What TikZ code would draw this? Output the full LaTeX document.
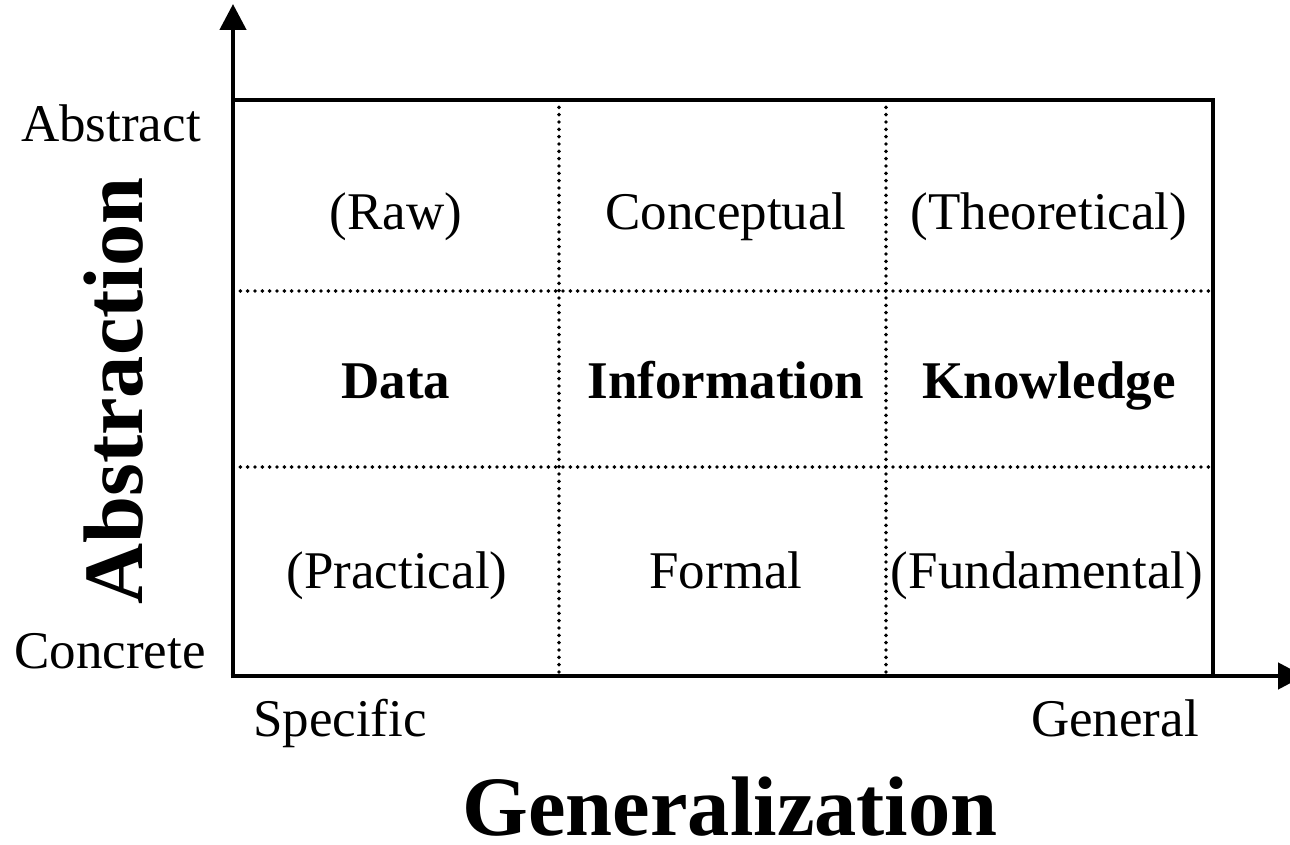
\documentclass[tikz,border=0pt]{standalone}
\usepackage{fontspec}
\setmainfont{Liberation Serif}
\usetikzlibrary{arrows.meta}
\begin{document}
\begin{tikzpicture}[x=0.75pt,y=-0.75pt,
  frameline/.style={line width=3.4pt},
  axisline/.style={line width=3.4pt,-{Triangle[length=19.5pt,width=19.5pt]}},
  gridline/.style={line width=2.9pt,line cap=round,dash pattern=on 0pt off 5.5pt},
  celltext/.style={anchor=base,inner sep=0pt,font=\fontsize{39.75}{44}\selectfont},
  cellhead/.style={celltext,font=\fontsize{39.75}{44}\selectfont\bfseries},
  endlabel/.style={anchor=base,inner sep=0pt,font=\fontsize{39.75}{44}\selectfont},
  axistitle/.style={anchor=base,inner sep=0pt,text depth=0pt,font=\fontsize{63.4}{70}\selectfont\bfseries}]
\useasboundingbox (0,0) rectangle (1290,845);
\clip (0,0) rectangle (1290,845);

% axes and frame corners
\coordinate (origin) at (233,676);
\coordinate (ytip) at (233,4);
\coordinate (xtip) at (1304,676);
\coordinate (tl) at (233,100);
\coordinate (br) at (1213,676);

% dotted grid end points
\coordinate (v1t) at (559,100);  \coordinate (v1b) at (559,676);
\coordinate (v2t) at (886,100);  \coordinate (v2b) at (886,676);
\coordinate (h1l) at (233,291);  \coordinate (h1r) at (1213,291);
\coordinate (h2l) at (233,467);  \coordinate (h2r) at (1213,467);

\draw[gridline] (v1t) -- (v1b);
\draw[gridline] (v2t) -- (v2b);
\draw[gridline] (h1l) -- (h1r);
\draw[gridline] (h2l) -- (h2r);

\draw[frameline] (tl) rectangle (br);
\draw[axisline] ([xshift=-1.7pt]origin) -- (xtip);
\draw[axisline] ([yshift=-1.7pt]origin) -- (ytip);

% cell contents
\node[celltext] (raw)   at (396,230) {(Raw)};
\node[celltext] (conc)  at (726,230) {Conceptual};
\node[celltext] (theo)  at (1049,230) {(Theoretical)};
\node[cellhead] (data)  at (396,398) {Data};
\node[cellhead] (info)  at (726,398) {Information};
\node[cellhead] (know)  at (1049,398) {Knowledge};
\node[celltext] (prac)  at (397,588) {(Practical)};
\node[celltext] (form)  at (726,588) {Formal};
\node[celltext] (fund)  at (1047,588) {(Fundamental)};

% axis end labels
\node[endlabel] (abs)  at (111,142) {Abstract};
\node[endlabel] (con)  at (110,668) {Concrete};
\node[endlabel] (spec) at (340,736) {Specific};
\node[endlabel] (gen)  at (1115,736) {General};

% axis titles
\node[axistitle] (gtitle) at (730,835) {Generalization};
\node[axistitle,rotate=90] (atitle) at (142,391) {Abstraction};
\end{tikzpicture}
\end{document}
